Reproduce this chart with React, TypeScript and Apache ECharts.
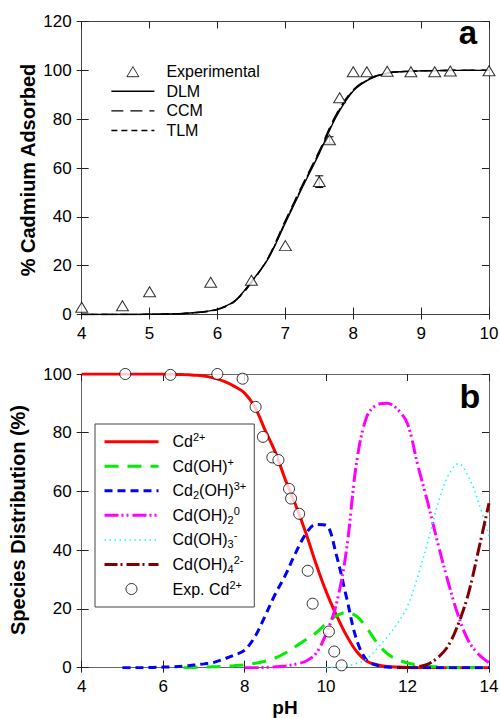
import React, { useEffect, useRef } from "react";
import * as echarts from "echarts";

const FONT = "'Liberation Sans', Arial, Helvetica, sans-serif";

// ---------- Panel a ----------
const phA = [4, 4.25, 4.5, 4.75, 5, 5.25, 5.5, 5.75, 6, 6.25, 6.5, 6.75, 7, 7.25, 7.5, 7.75, 8, 8.25, 8.5, 8.75, 9, 9.25, 9.5, 9.75, 10];
const dlm = [0, 0, 0, 0, 0.1, 0.2, 0.4, 1.0, 2.2, 5.5, 13.5, 23, 37.5, 52, 66, 81, 91.5, 96.5, 98.8, 99.5, 99.8, 99.9, 100, 100, 100];
const ccm = [0, 0, 0, 0, 0.1, 0.2, 0.4, 0.9, 2.0, 5.3, 13, 23.5, 38.5, 53, 67, 82, 92, 96.8, 98.9, 99.5, 99.8, 99.9, 100, 100, 100];
const tlm = [0, 0, 0, 0, 0.1, 0.2, 0.4, 1.0, 2.1, 5.4, 13.3, 23.2, 38, 52.5, 66.5, 81.5, 91.8, 96.6, 98.8, 99.5, 99.8, 99.9, 100, 100, 100];
const expPh = [4.0, 4.6, 5.0, 5.9, 6.5, 7.0, 7.5, 7.65, 7.8, 8.0, 8.2, 8.5, 8.85, 9.2, 9.43, 10.0];
const expAds = [3, 3.6, 9.3, 13.2, 14, 28.2, 54.5, 71.6, 88.8, 99.4, 99.4, 99.6, 99.4, 99.4, 99.7, 99.8];
const errPh = [7.5, 7.65];
const errLo = [52, 70.2];
const errHi = [56.8, 72.8];
const yTicksA = { min: 0, max: 120, interval: 20 };
const xTicksA = { min: 4, max: 10, interval: 1 };

// ---------- Panel b ----------
const phB = [4, 4.25, 4.5, 4.75, 5, 5.25, 5.5, 5.75, 6, 6.25, 6.5, 6.75, 7, 7.25, 7.5, 7.75, 8, 8.25, 8.5, 8.75, 9, 9.25, 9.5, 9.75, 10, 10.25, 10.5, 10.75, 11, 11.25, 11.5, 11.75, 12, 12.25, 12.5, 12.75, 13, 13.25, 13.5, 13.75, 14];
const cd = [100, 100, 100, 100, 100, 100, 100, 100, 100, 99.9, 99.8, 99.6, 99.3, 98.6, 97.5, 95.8, 93.5, 88.8, 81, 73.5, 64, 55.5, 46, 35.5, 26, 18, 11, 5.5, 2.2, 1, 0.4, 0.2, 0.1, 0, 0, 0, 0, 0, 0, 0, 0];
const cdOH = [null, null, null, null, null, null, null, null, null, null, 0, 0.1, 0.2, 0.3, 0.5, 0.7, 1.0, 1.5, 2.2, 3.3, 5.0, 7.2, 9.5, 11.8, 15, 17.6, 18.8, 17.5, 13.5, 8.5, 4.8, 2.8, 1.6, 0.9, 0.5, 0.3, 0.1, 0, 0, 0, 0];
const cd2OH = [null, null, null, null, 0, 0, 0, 0.1, 0.2, 0.3, 0.5, 0.9, 1.3, 1.8, 3, 4.3, 6, 10.5, 17.5, 25, 31.5, 39, 45.5, 48.8, 48.5, 38.5, 24, 9.5, 2.5, 0.8, 0.2, 0.1, 0, 0, 0, 0, 0, 0, 0, 0, 0];
const cdOH2 = [null, null, null, null, null, null, null, null, null, null, null, null, null, null, null, null, 0, 0, 0.1, 0.3, 0.6, 1.2, 2.2, 4.8, 11.5, 21.5, 40, 70, 85.5, 89.5, 90, 88, 83, 69, 56, 42, 29, 17.5, 9, 4.5, 1.7];
const cdOH3 = [null, null, null, null, null, null, null, null, null, null, null, null, null, null, null, null, null, null, null, null, null, null, null, null, 0, 0.2, 0.5, 1.5, 3, 6.5, 10.5, 15, 21, 31, 43, 56, 65.5, 69.5, 65, 56, 45];
const cdOH4 = [null, null, null, null, null, null, null, null, null, null, null, null, null, null, null, null, null, null, null, null, null, null, null, null, null, null, null, null, null, null, null, 0, 0.1, 0.3, 1.2, 3.5, 7.5, 15, 25.5, 40.5, 56];
const expBPh = [5.07, 6.18, 7.33, 7.95, 8.27, 8.45, 8.68, 8.83, 9.09, 9.14, 9.34, 9.55, 9.67, 10.07, 10.2, 10.38];
const expBCd = [100, 99.7, 100, 98.4, 88.8, 78.6, 71.6, 70.7, 60.9, 57.6, 52.4, 33.0, 21.8, 12.3, 5.5, 0.8];
const yTicksB = { min: 0, max: 100, interval: 20 };
const xTicksB = { min: 4, max: 14, interval: 2 };

const pairs = (xs: number[], ys: (number | null)[]) =>
  xs.map((x, i) => [x, ys[i]]).filter((p) => p[1] !== null);

const richNames: Record<string, string> = {
  "Cd2+": "Cd{sup|2+}",
  "Cd(OH)+": "Cd(OH){sup|+}",
  "Cd2(OH)3+": "Cd{sub|2}(OH){sup|3+}",
  "Cd(OH)2": "Cd(OH){sub|2}{sup|0}",
  "Cd(OH)3-": "Cd(OH){sub|3}{sup|-}",
  "Cd(OH)4 2-": "Cd(OH){sub|4}{sup|2-}",
  "Exp. Cd2+": "Exp. Cd{sup|2+}",
};

function axesFor(grid: number, dim: "x" | "y", t: { min: number; max: number; interval: number }, frameColor: string) {
  const base: any = {
    type: "value",
    gridIndex: grid,
    min: t.min,
    max: t.max,
    interval: t.interval,
    splitLine: { show: false },
  };
  const mainPos = dim === "x" ? "bottom" : "left";
  const otherPos = dim === "x" ? "top" : "right";
  return [
    {
      ...base,
      position: mainPos,
      axisLine: { show: true, onZero: false, lineStyle: { color: frameColor, width: 1 } },
      axisTick: { show: true, inside: false, length: 5, lineStyle: { color: "#222", width: 1 } },
      axisLabel: { show: true, margin: 10, fontSize: 17, color: "#000", fontFamily: FONT },
    },
    {
      ...base,
      position: mainPos,
      axisLine: { show: false, onZero: false },
      axisTick: { show: true, inside: true, length: 7, lineStyle: { color: "#222", width: 1 } },
      axisLabel: { show: false },
    },
    {
      ...base,
      position: otherPos,
      axisLine: { show: true, onZero: false, lineStyle: { color: frameColor, width: 1 } },
      axisTick: { show: true, inside: true, length: 7, lineStyle: { color: "#222", width: 1 } },
      axisLabel: { show: false },
    },
  ];
}

const hideSym = { opacity: 0 };
const TRI_ICON = "path://M6,0 L12,10 L0,10 Z";

export default function App() {
  const ref = useRef<HTMLDivElement>(null);
  useEffect(() => {
    if (!ref.current) return;
    const chart = echarts.init(ref.current, null, { renderer: "svg" });
    const lineA = (name: string, ys: number[], type: any, width: number) => ({
      name,
      type: "line",
      xAxisIndex: 0,
      yAxisIndex: 0,
      data: pairs(phA, ys),
      symbol: "none",
      smooth: 0.35,
      lineStyle: { color: "#000", width, type },
      itemStyle: { color: "#000" },
      z: 3,
    });
    const lineB = (name: string, ys: (number | null)[], color: string, type: any, width: number) => ({
      name,
      type: "line",
      xAxisIndex: 3,
      yAxisIndex: 3,
      data: pairs(phB, ys),
      symbol: "none",
      smooth: 0.35,
      lineStyle: { color, width, type },
      itemStyle: { color },
      z: 3,
    });
    const option: any = {
      animation: false,
      backgroundColor: "#fff",
      textStyle: { fontFamily: FONT },
      grid: [
        { left: 81.7, top: 21.5, width: 407.3, height: 293, containLabel: false, outerBoundsMode: "none" },
        { left: 81.7, top: 374, width: 407.3, height: 293.7, containLabel: false, outerBoundsMode: "none" },
      ],
      xAxis: [...axesFor(0, "x", xTicksA, "#444"), ...axesFor(1, "x", xTicksB, "#666")],
      yAxis: [...axesFor(0, "y", yTicksA, "#444"), ...axesFor(1, "y", yTicksB, "#666")],
      legend: [
        {
          orient: "vertical",
          left: 110.7,
          top: 63.7,
          padding: 0,
          itemWidth: 43,
          itemHeight: 10,
          itemGap: 3.6,
          selectedMode: false,
          symbolKeepAspect: true,
          itemStyle: { borderWidth: 1 },
          lineStyle: { width: 1.4 },
          textStyle: { fontSize: 16, color: "#000", fontFamily: FONT, padding: [0, 0, 0, 7] },
          data: [
            { name: "Experimental", icon: TRI_ICON },
            { name: "DLM", itemStyle: hideSym },
            { name: "CCM", itemStyle: hideSym },
            { name: "TLM", itemStyle: hideSym },
          ],
        },
        {
          orient: "vertical",
          left: 95,
          top: 424,
          padding: [7.7, 8, 8, 8],
          backgroundColor: "#fff",
          borderColor: "#444",
          borderWidth: 1,
          itemWidth: 54,
          itemHeight: 11,
          itemGap: 4.55,
          selectedMode: false,
          symbolKeepAspect: true,
          itemStyle: { borderWidth: 1 },
          lineStyle: { width: 3 },
          formatter: (name: string) => richNames[name] || name,
          textStyle: {
            fontSize: 16,
            lineHeight: 20,
            color: "#000",
            fontFamily: FONT,
            padding: [0, 0, 0, 9],
            rich: {
              sup: { fontSize: 11, lineHeight: 16, verticalAlign: "top", color: "#000", fontFamily: FONT },
              sub: { fontSize: 11, lineHeight: 10, verticalAlign: "bottom", color: "#000", fontFamily: FONT },
            },
          },
          data: [
            { name: "Cd2+", itemStyle: hideSym },
            { name: "Cd(OH)+", itemStyle: hideSym },
            { name: "Cd2(OH)3+", itemStyle: hideSym },
            { name: "Cd(OH)2", itemStyle: hideSym },
            { name: "Cd(OH)3-", itemStyle: hideSym, lineStyle: { width: 1.5 } },
            { name: "Cd(OH)4 2-", itemStyle: hideSym },
            { name: "Exp. Cd2+", icon: "circle" },
          ],
        },
      ],
      series: [
        lineA("DLM", dlm, "solid", 1.4),
        lineA("CCM", ccm, [12, 7], 1.5),
        lineA("TLM", tlm, [6, 4], 1.4),
        {
          name: "errors",
          type: "custom",
          xAxisIndex: 0,
          yAxisIndex: 0,
          data: errPh.map((x, i) => [x, errLo[i], errHi[i]]),
          encode: { x: 0, y: [1, 2] },
          z: 4,
          renderItem: (params: any, api: any) => {
            const x = api.value(0);
            const p1 = api.coord([x, api.value(1)]);
            const p2 = api.coord([x, api.value(2)]);
            const w = 4;
            const st = { stroke: "#000", lineWidth: 1 };
            return {
              type: "group",
              children: [
                { type: "line", shape: { x1: p1[0], y1: p1[1], x2: p2[0], y2: p2[1] }, style: st },
                { type: "line", shape: { x1: p1[0] - w, y1: p1[1], x2: p1[0] + w, y2: p1[1] }, style: st },
                { type: "line", shape: { x1: p2[0] - w, y1: p2[1], x2: p2[0] + w, y2: p2[1] }, style: st },
              ],
            };
          },
        },
        {
          name: "Experimental",
          type: "scatter",
          xAxisIndex: 0,
          yAxisIndex: 0,
          data: pairs(expPh, expAds),
          symbol: "triangle",
          symbolSize: [12, 10],
          itemStyle: { color: "#fff", borderColor: "#000", borderWidth: 1 },
          z: 5,
        },
        lineB("Cd2+", cd, "#ff0000", "solid", 3),
        lineB("Cd(OH)+", cdOH, "#00ee00", [14, 9], 3),
        lineB("Cd2(OH)3+", cd2OH, "#0000ff", [8, 5], 3),
        lineB("Cd(OH)2", cdOH2, "#ff00ff", [14, 3, 2, 3, 2, 4], 3),
        lineB("Cd(OH)3-", cdOH3, "#00ffff", [1.5, 3.5], 1.5),
        lineB("Cd(OH)4 2-", cdOH4, "#800000", [13, 3, 2, 4], 3),
        {
          name: "Exp. Cd2+",
          type: "scatter",
          xAxisIndex: 3,
          yAxisIndex: 3,
          data: pairs(expBPh, expBCd),
          symbol: "circle",
          symbolSize: 11,
          itemStyle: { color: "#fff", borderColor: "#000", borderWidth: 1 },
          z: 5,
        },
      ],
      graphic: [
        {
          type: "text",
          x: 28,
          y: 170,
          rotation: Math.PI / 2,
          style: { text: "% Cadmium Adsorbed", font: `bold 20px ${FONT}`, fill: "#000", textAlign: "center", textVerticalAlign: "middle", align: "center", verticalAlign: "middle" },
        },
        {
          type: "text",
          x: 18,
          y: 520,
          rotation: Math.PI / 2,
          style: { text: "Species Distribution (%)", font: `bold 20px ${FONT}`, fill: "#000", textAlign: "center", textVerticalAlign: "middle", align: "center", verticalAlign: "middle" },
        },
        {
          type: "text",
          x: 285,
          y: 707,
          style: { text: "pH", font: `bold 19px ${FONT}`, fill: "#000", textAlign: "center", textVerticalAlign: "middle", align: "center", verticalAlign: "middle" },
        },
        {
          type: "text",
          x: 468,
          y: 32,
          style: { text: "a", font: `bold 33px ${FONT}`, fill: "#000", textAlign: "center", textVerticalAlign: "middle", align: "center", verticalAlign: "middle" },
        },
        {
          type: "text",
          x: 470,
          y: 396,
          style: { text: "b", font: `bold 34px ${FONT}`, fill: "#000", textAlign: "center", textVerticalAlign: "middle", align: "center", verticalAlign: "middle" },
        },
      ],
    };
    chart.setOption(option);
    return () => chart.dispose();
  }, []);
  return <div ref={ref} style={{ position: "absolute", left: 0, top: 0, width: 500, height: 718 }} />;
}
